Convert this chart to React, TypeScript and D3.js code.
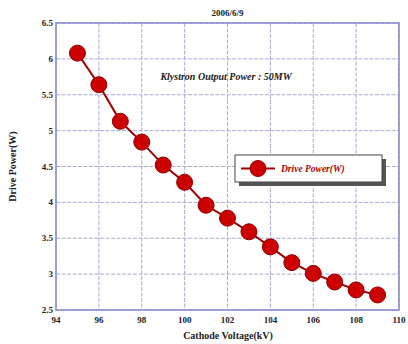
import React from 'react';
import * as d3 from 'd3';

// Drive power vs cathode voltage
const voltages = [95, 96, 97, 98, 99, 100, 101, 102, 103, 104, 105, 106, 107, 108, 109];
const drivePower = [6.08, 5.64, 5.13, 4.84, 4.52, 4.28, 3.96, 3.78, 3.59, 3.38, 3.16, 3.01, 2.89, 2.78, 2.71];
const xTicks = [94, 96, 98, 100, 102, 104, 106, 108, 110];
const yTicks = [2.5, 3, 3.5, 4, 4.5, 5, 5.5, 6, 6.5];

const W = 408;
const H = 344;
const margin = { top: 23, right: 9, bottom: 34, left: 56 };

const App: React.FC = () => {
  const x = d3.scaleLinear().domain([94, 110]).range([margin.left, W - margin.right]);
  const y = d3.scaleLinear().domain([2.5, 6.5]).range([H - margin.bottom, margin.top]);

  const line = d3.line<number>()
    .x((_, i) => x(voltages[i]))
    .y(d => y(d));

  const font = '"Liberation Serif", "DejaVu Serif", serif';
  const grid = '#aaaadd';

  return (
    <svg width={W} height={H} style={{ position: 'absolute', left: 0, top: 0 }} fontFamily={font}>
      <rect width={W} height={H} fill="#fff" />

      {/* grid */}
      {xTicks.map(t => (
        <line key={'gx' + t} x1={x(t)} x2={x(t)} y1={y(6.5)} y2={y(2.5)}
          stroke={grid} strokeWidth={1} strokeDasharray="4,1.5" />
      ))}
      {yTicks.map(t => (
        <line key={'gy' + t} x1={x(94)} x2={x(110)} y1={y(t)} y2={y(t)}
          stroke={grid} strokeWidth={1} strokeDasharray="4,1.5" />
      ))}

      {/* frame */}
      <rect x={x(94)} y={y(6.5)} width={x(110) - x(94)} height={y(2.5) - y(6.5)}
        fill="none" stroke="#8888cc" strokeWidth={1.5} />

      {/* tick labels */}
      {xTicks.map(t => (
        <text key={'tx' + t} x={x(t)} y={y(2.5) + 13} textAnchor="middle"
          fontSize={9} fontWeight="bold" fill="#222">{t}</text>
      ))}
      {yTicks.map(t => (
        <text key={'ty' + t} x={x(94) - 3} y={y(t) + 3} textAnchor="end"
          fontSize={9} fontWeight="bold" fill="#222">{t}</text>
      ))}

      {/* title and labels */}
      <text x={(x(94) + x(110)) / 2} y={16} textAnchor="middle" fontSize={9}
        fontWeight="bold" fill="#222">2006/6/9</text>
      <text x={228} y={339} textAnchor="middle" fontSize={10} fontWeight="bold" fill="#222">
        Cathode Voltage(kV)
      </text>
      <text transform={`translate(16,${(y(2.5) + y(6.5)) / 2}) rotate(-90)`} textAnchor="middle"
        fontSize={10} fontWeight="bold" fill="#222">Drive Power(W)</text>

      <text x={226} y={80} textAnchor="middle" fontSize={10} fontWeight="bold"
        fontStyle="italic" fill="#222">Klystron Output Power : 50MW</text>

      {/* series */}
      <path d={line(drivePower) || ''} fill="none" stroke="#a00000" strokeWidth={2} />
      {drivePower.map((d, i) => (
        <circle key={'p' + i} cx={x(voltages[i])} cy={y(d)} r={8}
          fill="#cc0000" stroke="#900000" strokeWidth={1} />
      ))}

      {/* legend */}
      <rect x={239} y={159} width={147} height={27} fill="#555" />
      <rect x={235} y={155} width={147} height={27} fill="#fff" stroke="#444" strokeWidth={1} />
      <line x1={241} x2={275} y1={168.5} y2={168.5} stroke="#a00000" strokeWidth={2} />
      <circle cx={258} cy={168.5} r={8} fill="#cc0000" stroke="#900000" />
      <text x={281} y={172} fontSize={9.5} fontStyle="italic" fontWeight="bold" fill="#b00000">
        Drive Power(W)
      </text>
    </svg>
  );
};

export default App;
